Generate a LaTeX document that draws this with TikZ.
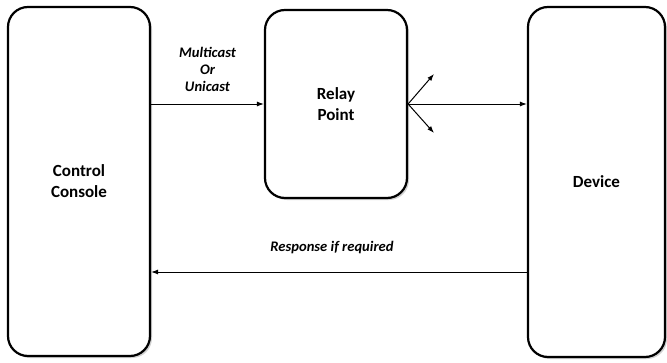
\documentclass[tikz,border=0pt]{standalone}
\usepackage{fontspec}
\setmainfont{Carlito}
\usetikzlibrary{arrows.meta,shadows}

\begin{document}
\begin{tikzpicture}
	[x=1pt,y=-1pt,
	 unit/.style={draw,line width=2.2pt,rounded corners=20pt,fill=white,
		drop shadow={shadow xshift=2pt,shadow yshift=-2pt,fill=black!30,opacity=0.6},
		align=center,font=\fontsize{17}{21}\selectfont\bfseries},
	 flow/.style={-{Latex[length=7pt,width=5pt]},line width=1pt},
	 tag/.style={align=center,inner sep=0pt,font=\fontsize{14.6}{17}\selectfont\bfseries\itshape}]
	\useasboundingbox (0,0) rectangle (667,362);

	% the three units
	\node[unit,minimum width=142pt,minimum height=349pt] (console) at (79,181.5) {Control\\Console};
	\node[unit,minimum width=142pt,minimum height=188pt] (relay) at (336,104) {Relay\\Point};
	\node[unit,minimum width=137pt,minimum height=350pt] (device) at (596.5,182) {Device};

	% free ends of the fan and the return line
	\coordinate (fanup) at (434,74);
	\coordinate (fandown) at (434,133);
	\coordinate (ret) at (0,272);

	% forward path
	\draw[flow] (console.east |- relay.west) -- (relay.west)
		node[tag,midway,above=12pt] {Multicast\\Or\\Unicast};
	\draw[flow] (relay.east) -- (relay.east -| device.west);
	\draw[flow] (relay.east) -- (fanup);
	\draw[flow] (relay.east) -- (fandown);

	% return path
	\draw[flow] (device.west |- ret) -- (console.east |- ret)
		node[tag,midway,above=18pt,xshift=-7pt] {Response if required};
\end{tikzpicture}
\end{document}
